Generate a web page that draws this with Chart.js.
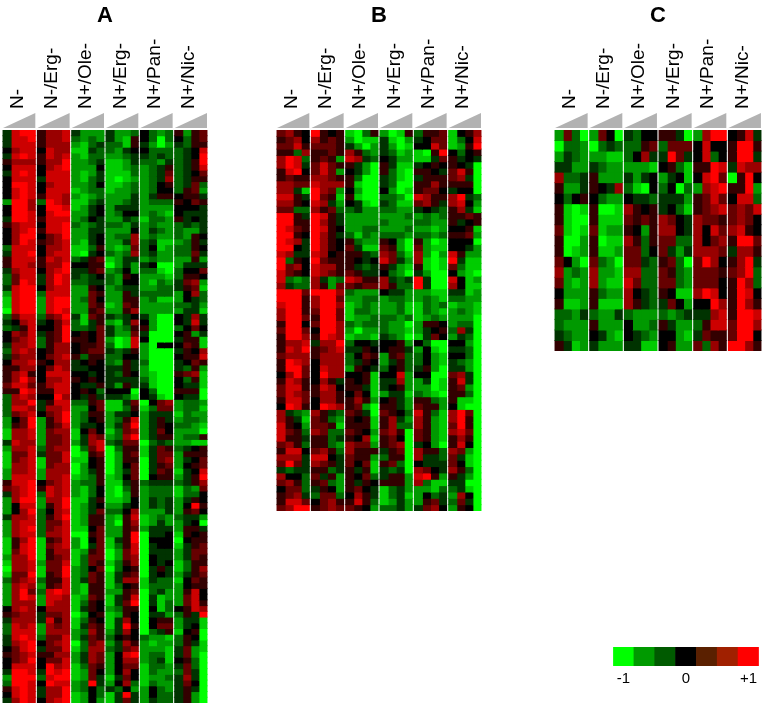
<!DOCTYPE html>
<html><head><meta charset="utf-8">
<script src="https://cdn.jsdelivr.net/npm/chart.js@4"></script>
<style>
html,body{margin:0;padding:0;background:#fff;width:765px;height:705px;overflow:hidden}
canvas{position:absolute;filter:blur(0.45px)}
.w{position:absolute}
</style></head><body>
<div class="w" style="left:2px;top:0;width:206px;height:703px"><canvas id="a"></canvas></div>
<div class="w" style="left:276px;top:0;width:206px;height:511px"><canvas id="b"></canvas></div>
<div class="w" style="left:554px;top:0;width:208px;height:351px"><canvas id="c"></canvas></div>
<div class="w" style="left:613px;top:647px;width:148px;height:42px"><canvas id="k"></canvas></div>
<script>
const groupLabels=['N-','N-/Erg-','N+/Ole-','N+/Erg-','N+/Pan-','N+/Nic-'];
const scaleLabels=['-1','','','0','','','+1'];
const scaleColours=['#00ff00','#009a00','#005a00','#000000','#5a2000','#a02000','#ff0000'];
const scaleValues=[1,1,1,1,1,1,1];
// each row: 6 groups x 4 doses, -5 (full green) .. +5 (full red)
const rowsA=[
[-1,4,5,5,1,3,3,4,-1,-3,-3,-3,-1,-3,-3,-2,0,-2,-3,-2,1,-3,1,2],
[-1,4,4,5,1,3,3,4,-2,-3,-2,-3,-1,-3,-4,1,0,-2,-5,-2,0,-2,1,2],
[-1,4,4,4,1,3,3,3,-3,-4,-2,-1,-2,-2,-4,1,-1,-3,-5,-3,-1,-2,1,1],
[0,3,4,4,0,4,3,3,-4,-4,-1,-2,-2,-3,-1,0,0,-2,-2,-2,-2,-1,0,4],
[-1,4,5,4,1,4,3,4,-3,-4,-2,-2,-3,-3,-2,-1,-1,-2,-1,-2,-2,-1,0,5],
[1,3,3,3,1,3,3,5,-3,-3,-2,-1,-4,-4,-3,-1,-2,-2,-3,-1,-2,-1,1,5],
[0,4,4,4,0,3,4,5,-3,-3,-3,0,-4,-4,-3,-2,-3,-2,-1,1,-2,-1,1,4],
[-1,4,5,4,0,4,4,4,-3,-4,-3,-1,-4,-4,-4,-2,-3,-2,-1,2,-2,-1,0,2],
[0,4,4,4,-1,4,4,4,-3,-4,-2,-1,-4,-5,-4,-3,-3,-2,-1,3,-2,-1,1,1],
[0,5,5,4,0,3,4,4,-3,-3,-2,0,-4,-4,-3,-2,-3,-2,0,1,-2,-1,2,-2],
[0,4,5,4,0,4,4,4,-4,-3,-2,-2,-4,-3,-3,-2,-3,-2,0,0,-2,1,2,-3],
[0,4,5,4,1,4,4,3,-3,-4,-3,-2,-3,-3,-3,-1,-3,-1,1,1,0,1,1,-1],
[-3,5,5,3,-2,5,4,3,-4,-4,-2,-1,-3,-3,-2,-1,-3,-2,-2,-2,1,0,2,1],
[0,5,5,3,0,5,5,4,-4,-3,-1,0,-3,-1,-1,-1,-3,-3,-3,-3,0,0,0,-1],
[0,5,5,4,0,4,5,5,-3,-3,-1,0,-3,-2,0,0,-3,-2,-3,-4,0,-1,-1,-1],
[-1,5,5,4,1,4,4,4,-3,-2,0,-1,-3,-3,-1,-2,-4,-2,-2,-3,1,-1,0,-1],
[1,3,4,4,0,4,4,5,-2,-3,-2,-1,-2,-2,-3,-1,-3,-2,-3,-3,-2,-1,-2,-1],
[0,3,4,5,1,4,4,5,-3,-3,-1,-1,-3,-3,-3,0,-3,-1,-2,-3,-2,-3,-3,-1],
[0,3,5,5,0,2,3,5,-3,-3,-1,0,-3,-2,-2,3,-3,-2,-3,-3,-2,-3,1,0],
[0,3,5,4,1,2,3,4,-3,-4,-1,0,-3,-3,-1,3,-2,-1,-4,-4,-3,-2,1,-1],
[-2,4,4,4,0,3,3,4,-4,-4,-2,1,-3,-4,-3,2,-2,0,-4,-3,-2,-2,1,0],
[-1,4,4,5,0,3,4,4,-4,-5,-1,0,-2,-3,-2,3,-2,-1,-3,-3,-2,-2,2,-1],
[1,4,4,4,1,4,3,4,-2,-1,1,2,-4,-3,-1,-1,-3,-2,-3,-3,-3,-3,1,-3],
[1,4,4,3,1,3,3,5,0,0,1,1,-5,-3,-1,-3,-1,0,-5,-5,-3,-1,-1,-1],
[-1,3,4,4,0,3,4,5,-1,-1,1,2,-3,-2,0,-3,-2,-2,-4,-5,-2,0,0,2],
[-2,2,4,4,-1,3,5,4,-1,-2,-1,0,-2,-3,1,0,-3,-3,-3,-4,-2,1,1,0],
[-2,2,5,4,-1,3,5,4,-2,-2,-1,-1,-2,-3,0,0,-3,-4,-2,-3,-1,2,3,-3],
[-1,4,5,5,0,3,4,4,-3,-3,1,0,-3,-2,-1,-1,-3,-3,-2,-2,-1,1,2,-4],
[-3,4,5,5,-2,4,4,4,-3,-3,2,1,-3,-3,1,-1,-2,-2,-2,-2,-3,0,3,-2],
[-4,4,5,5,-3,4,5,5,-3,-2,2,0,-3,-3,1,1,-3,-2,-4,-4,-3,0,-1,-2],
[-4,4,5,5,-3,4,5,5,-3,-3,2,1,-4,-3,2,1,-3,-3,-3,-3,-2,-2,-1,-3],
[-5,4,5,5,-3,4,5,4,-3,-3,1,2,-3,-3,1,3,-3,-3,-3,-3,-3,-1,-1,-4],
[-2,2,4,4,-2,2,3,5,-1,-4,2,1,-1,-2,-1,0,-1,-3,-5,-5,0,-1,3,-1],
[-1,0,3,4,-1,0,2,4,-2,-4,-1,1,-3,-4,-1,3,0,-3,-5,-5,0,-1,4,-1],
[-2,-1,1,4,0,0,2,5,-2,-2,-1,2,-1,-3,-2,1,1,-3,-5,-5,-2,0,2,0],
[0,3,2,4,-1,1,2,5,0,1,0,2,-1,-3,-3,2,-1,-5,-5,-5,0,1,-3,-1],
[0,2,3,4,-2,1,2,5,1,1,0,2,-3,-5,-4,4,0,-5,-5,-5,-1,1,1,-4],
[-1,3,3,4,-2,1,3,3,0,1,1,2,-2,-5,-4,4,-3,-5,0,0,0,2,1,-4],
[-2,3,4,3,0,1,3,3,0,1,2,2,-1,-2,-1,1,-3,-5,-5,-5,-1,1,0,3],
[-1,2,3,3,0,2,3,4,1,-2,1,1,-2,-2,0,0,-3,-5,-5,-5,0,1,1,4],
[0,3,3,4,1,0,3,3,-1,0,1,0,-2,-3,1,-1,-2,-5,-5,-5,-1,0,2,1],
[1,1,3,3,0,2,4,3,-1,-1,0,0,-1,-1,1,-1,-3,-5,-5,-5,-1,-2,1,-3],
[1,3,4,1,0,4,4,4,0,0,-1,0,-1,-2,1,0,-3,-4,-5,-5,1,2,3,-4],
[1,3,5,3,0,3,3,4,1,0,1,0,-1,-1,-1,-1,-2,-4,-5,-5,0,-2,1,-4],
[2,4,4,2,1,3,4,4,0,-1,-1,1,-1,-3,1,-1,-1,-4,-5,-5,0,-1,-1,-4],
[1,1,5,4,1,1,4,4,0,1,0,-2,0,0,0,-5,0,-2,-5,-5,1,1,1,-5],
[-2,3,4,3,0,0,5,3,0,-1,1,-1,-1,-1,-2,-4,0,-1,-4,-5,0,-1,-1,-5],
[-2,3,3,5,-1,1,4,4,-2,-2,1,2,-4,-4,-1,2,-5,0,2,3,-3,-2,-2,-3],
[-2,4,4,3,-1,3,3,4,-3,-3,0,2,-4,-4,-2,1,-4,-2,2,2,-3,-2,-2,-4],
[-2,2,3,4,0,2,3,5,-3,-2,1,1,-3,-1,-1,0,-3,-1,-1,-1,-4,-2,-3,-3],
[-3,0,2,5,-3,1,3,5,-3,-2,0,1,-3,-2,1,4,-3,-1,1,-1,-3,-2,-2,-3],
[-3,1,2,5,-3,1,2,4,-3,-1,-1,0,-3,-1,2,5,-3,-1,1,0,-2,-2,-3,-4],
[-4,3,3,4,-3,2,3,3,-4,0,2,0,-4,-2,2,3,-3,-1,2,0,-3,-3,-3,-5],
[-4,3,3,4,-3,2,2,3,-4,-1,3,2,-3,-2,3,5,-3,-1,1,1,-3,-2,-2,1],
[-1,4,3,3,-3,2,2,3,-3,-1,3,4,-2,-1,2,2,-5,-2,-1,-2,-3,-3,-4,-4],
[-3,3,3,4,-2,2,3,3,-5,-2,2,4,-5,-2,1,1,-4,-1,2,1,-2,-1,0,1],
[-4,2,2,4,-1,2,2,4,-5,-4,1,2,-5,-3,1,2,-4,-1,2,2,-3,1,1,1],
[-4,2,3,4,-4,2,2,4,-4,-4,0,1,-5,-3,1,1,-5,-1,2,3,-3,-1,0,2],
[-4,3,3,4,-4,2,3,3,-5,-3,0,1,-5,-3,0,2,-5,-1,1,2,-3,0,1,2],
[-3,3,3,4,-3,3,3,3,-5,-3,-1,1,-5,-3,-1,2,-5,-1,2,1,-4,-1,0,4],
[-3,4,4,4,-3,3,3,4,-4,-3,-2,1,-4,-3,0,2,-5,0,1,1,-3,-1,1,5],
[1,4,4,5,0,2,3,4,-3,-2,-2,1,-4,-4,-1,1,-2,-1,-1,-1,-2,-1,1,3],
[2,3,4,5,1,4,3,4,-3,-4,-2,0,-4,-5,-2,1,-3,-2,-2,-2,-4,-2,-3,2],
[-1,3,4,5,-2,4,3,4,-3,-4,-2,0,-4,-5,-3,1,-3,-2,-2,-2,-4,-2,-2,0],
[-3,3,5,5,-3,3,3,5,-4,-4,-1,1,-4,-4,-3,0,-3,-1,-2,-1,-3,-1,1,0],
[-3,0,4,4,-3,1,3,5,-4,-3,-1,0,-3,-3,-1,0,-3,-1,-2,-1,-3,0,5,1],
[-3,0,3,5,-2,0,3,4,-4,-3,-1,2,-2,-2,0,3,-3,-3,-3,-1,-3,1,2,0],
[-1,3,3,4,-2,1,3,5,-4,-3,1,1,-3,-4,1,4,-4,-3,-2,-3,-2,-1,-1,-3],
[-3,3,4,4,-2,2,2,4,-4,-3,1,1,-3,-5,1,3,-4,-3,-1,-3,-3,-1,0,-5],
[-3,3,4,5,-2,2,3,4,-4,-4,0,2,-3,-3,1,2,-3,-1,-1,-1,-3,1,1,-1],
[-3,3,4,4,-2,3,3,4,-5,-5,1,2,-3,-3,1,5,-5,-1,-1,0,-4,1,0,1],
[-4,1,3,5,-4,1,2,4,-3,-5,0,2,-4,-1,1,5,-5,0,0,0,-5,0,1,1],
[-4,1,4,5,-4,2,3,4,-3,-5,-1,2,-4,-2,1,4,-5,-1,0,0,-4,-1,1,2],
[-4,2,4,5,-4,1,3,3,-4,-3,1,2,-5,-3,2,4,-5,-1,-1,-1,-3,-1,2,2],
[-3,3,3,5,-4,1,2,3,-4,-2,2,2,-5,-3,2,3,-5,0,-1,-1,-3,-1,2,1],
[-4,3,3,4,-3,2,2,4,-4,-2,2,1,-4,-2,1,3,-5,0,-1,0,-4,-2,1,1],
[-5,3,3,4,-4,2,2,5,-3,-2,0,2,-5,-2,0,1,-5,-1,1,-1,-4,-2,1,3],
[-4,2,2,5,-4,1,2,5,-3,-2,2,1,-4,-1,1,2,-5,-1,0,-1,-3,-1,1,2],
[-2,2,3,4,-2,1,1,4,-3,-1,2,1,-4,-1,3,3,-4,-1,-2,-2,-4,0,2,1],
[-3,3,4,3,-3,1,2,4,-3,-4,1,1,-4,-2,0,1,-4,-2,-2,-2,-3,0,1,1],
[-3,3,5,2,-2,4,5,4,-3,-4,1,1,-3,-3,1,2,-5,-2,-1,-3,-3,1,4,0],
[-3,3,5,4,-3,4,4,3,-4,-3,2,1,-4,-1,1,4,-5,-1,-4,-3,-3,2,4,0],
[-3,3,3,3,-3,4,3,3,-4,-2,1,0,-4,-1,2,5,-5,-1,-4,-2,-3,2,4,1],
[0,3,4,3,0,3,3,3,-4,-1,1,0,-3,-2,1,1,-5,0,-4,-2,0,1,4,3],
[1,2,3,3,-1,2,2,3,-5,-3,0,1,-4,-3,1,0,-5,-1,-1,-3,-2,1,-1,5],
[-1,3,3,3,-1,4,1,3,-4,-2,1,0,-4,-1,3,0,-5,0,1,1,-3,-1,-1,-4],
[-2,4,3,4,-3,3,2,3,-4,-1,2,1,-4,-1,5,1,-5,0,2,2,-3,-1,0,-4],
[-2,4,4,4,-3,3,3,3,-3,-2,3,1,-3,-1,3,0,-5,-2,-1,1,-4,0,1,-5],
[-1,4,5,4,-2,2,2,4,-3,-1,2,1,-2,0,1,0,-2,-3,-3,-4,-2,1,0,-5],
[-1,3,4,5,0,2,3,4,-5,-2,2,3,-3,-1,3,1,-3,-4,-3,-3,-2,1,-1,-4],
[0,2,4,5,-1,2,2,4,-4,-2,3,3,-2,-1,2,3,-3,-3,-3,-4,-1,2,-3,-4],
[1,2,3,4,1,1,3,3,-3,-1,3,2,-3,0,4,5,-3,-2,-2,-4,-1,2,-3,-5],
[0,2,3,5,0,2,2,4,-3,-1,3,2,-3,0,3,3,-3,-2,-1,-4,0,1,-2,-5],
[0,4,4,4,0,5,3,4,-4,-2,2,1,-3,0,2,2,-4,-2,-2,-3,-1,2,-2,-5],
[-1,5,5,4,-1,5,4,5,-4,-3,2,0,-3,0,3,0,-4,-2,-3,-3,-2,2,-1,-5],
[-3,5,5,5,-2,4,5,5,-4,-3,2,-1,-4,-1,2,0,-4,-3,-3,-2,-1,3,-1,-5],
[-2,5,5,4,0,5,4,4,-3,-2,5,-1,-3,0,3,-2,-4,-2,-3,-3,-1,2,0,-5],
[1,4,5,4,-1,3,3,5,-3,-2,0,-2,-1,-2,0,-3,-3,0,-2,-3,-1,1,-1,-5],
[0,4,5,4,-1,3,3,5,-4,-3,0,-2,-4,-1,5,-1,-3,0,-2,-2,-1,1,-3,-5],
[-1,3,5,4,0,3,4,5,-4,-3,0,-3,-4,-1,2,-1,-3,-1,-2,-2,-1,1,-3,-5]
];
const rowsB=[
[2,3,1,0,5,1,0,1,-4,-5,-2,1,-3,-5,-4,1,-2,1,1,2,-4,0,1,3],
[1,2,3,0,3,1,2,1,-3,-5,-4,-4,-1,-4,-5,-3,-1,0,2,2,-4,-2,0,4],
[2,2,4,1,2,2,2,1,-1,-3,-5,-3,-1,-3,-5,-4,0,0,4,2,-4,-3,1,5],
[1,1,-2,3,1,1,2,1,3,1,-2,-3,-1,-2,-4,-3,-4,-5,1,5,0,-2,0,1],
[3,5,4,-2,1,2,1,-3,4,3,-1,-2,0,-1,-3,-3,-4,-4,-1,2,1,-1,0,-1],
[3,5,4,-1,2,4,2,1,1,-1,-3,-5,1,-1,-4,-4,-1,0,1,0,1,0,-1,-5],
[1,4,5,0,2,4,2,-3,0,-1,-3,-5,1,-2,-4,-5,1,1,0,-1,2,4,1,-5],
[1,2,1,1,3,3,2,1,1,-2,-5,-5,-1,-2,-4,-5,-1,1,1,1,2,3,-1,-5],
[3,3,2,2,4,3,3,3,1,-4,-5,-5,-1,-2,-5,-5,1,1,3,1,1,1,1,-5],
[3,3,-1,-4,5,3,2,-3,0,-3,-5,-5,0,-3,-5,-4,1,2,2,0,-1,0,0,-5],
[4,4,1,-1,5,2,1,-4,1,-4,-5,-5,-2,-2,-3,-5,4,3,1,1,3,5,-1,-2],
[3,3,1,0,4,3,-1,-3,0,-1,-4,-5,-1,-2,-4,-4,2,3,1,-1,3,4,0,-3],
[2,2,-2,-2,3,1,2,-2,-2,-1,-3,-3,-2,-2,-3,-3,-1,0,-1,-2,1,3,-1,-4],
[5,5,1,-1,5,4,1,-1,-3,-3,-3,-3,-3,-3,-3,-2,-3,-2,-3,-2,1,1,2,1],
[5,5,1,1,5,3,1,-1,-3,-3,-3,-3,-2,-3,-3,-3,-2,-2,-3,-3,1,-1,0,1],
[5,4,2,1,5,4,1,0,-3,-3,-2,-2,-3,-3,-3,-2,-3,-3,-4,-3,0,0,1,-4],
[5,5,1,0,5,3,1,-1,-2,-4,-2,-3,-2,-2,-2,-3,-2,-2,-3,-2,1,1,2,-3],
[5,4,3,-1,5,3,1,0,1,-2,-3,-3,1,0,-3,-5,1,-3,-5,-4,0,0,0,-5],
[5,5,0,-1,5,3,1,0,2,-1,-4,-4,2,1,-3,-5,2,-3,-4,-4,0,0,-1,-3],
[4,3,-1,-1,4,3,0,1,1,1,-1,-2,3,2,-2,-4,3,-3,-5,-3,4,1,-3,-3],
[5,-2,1,0,5,2,1,1,1,0,-1,0,4,2,-1,-3,3,-4,-5,-4,5,-1,-4,-4],
[5,2,3,0,4,3,3,1,1,-1,-2,-1,1,-1,-3,-4,1,-4,-5,-4,2,-2,-4,-4],
[4,2,1,0,4,3,2,1,2,1,-1,-1,0,-2,-3,-5,-1,-3,-5,-5,0,-3,-4,-5],
[4,-2,-3,-2,3,-1,-3,-2,4,3,1,1,3,-1,-2,-1,5,-1,-5,-5,4,0,-4,-3],
[3,-1,-2,-2,3,1,-3,2,2,1,2,2,3,1,-2,-2,5,-1,-5,-5,3,0,-4,-4],
[5,5,5,2,5,5,5,3,-2,-3,-3,-3,0,-1,-1,-3,-3,-3,-4,-4,-1,-1,-4,-3],
[5,5,5,1,3,5,5,2,-3,-3,-2,-2,-3,-2,-2,-3,-3,-2,-3,-4,-2,-2,-3,-3],
[4,5,5,1,3,5,5,3,-4,-3,-2,-3,-3,-3,-2,-4,-4,-2,-3,-2,-4,-3,-3,-4],
[3,5,5,1,2,5,5,2,-4,-2,-2,-3,-3,-3,-2,-4,-4,-2,-3,-4,-3,-2,-3,-4],
[3,5,5,2,1,5,5,2,-4,-3,-3,-2,-2,-2,-3,-2,-4,-3,-2,-3,-3,-3,-3,-5],
[1,5,5,0,2,5,5,3,-2,-3,-2,-2,-2,-3,-3,-5,-3,1,1,0,-3,-2,-2,-5],
[2,5,5,2,0,5,5,3,-3,-5,-3,-3,-2,-3,-3,-4,-3,-1,0,1,-2,3,-1,-5],
[1,5,5,3,1,5,4,3,-4,-3,-3,-4,-1,-2,-3,-5,-4,-1,2,0,-3,-1,-2,-5],
[1,3,3,4,-1,3,3,5,-2,0,0,-1,0,0,1,-3,0,-2,-5,-5,0,0,-3,-5],
[1,4,3,5,1,2,3,4,-1,-1,1,0,0,1,1,-1,-3,0,-4,-5,-1,-1,-2,-5],
[2,3,3,3,1,3,3,3,-2,0,2,1,-3,1,2,-2,-2,0,-3,-4,0,0,-2,-5],
[1,5,4,3,0,3,3,3,-2,-1,1,0,-3,-1,1,-2,-2,0,-3,-4,-1,-2,-3,-5],
[1,5,5,2,0,4,3,3,-3,1,0,-1,-2,0,1,-2,-1,1,-3,-5,-1,-1,-3,-5],
[0,3,5,2,0,5,3,3,0,0,1,-4,0,0,4,-3,0,0,-5,-5,2,3,-1,-5],
[1,4,3,1,0,3,1,-1,1,0,1,-4,-1,-1,3,-3,-3,-1,-5,-4,1,4,-1,-5],
[2,4,4,1,1,4,3,0,1,1,-1,-4,-1,0,1,-3,-3,-3,-5,-4,1,2,-3,-5],
[2,4,3,2,1,3,3,1,0,2,0,-4,-3,-1,-1,-4,-2,-3,-4,-5,1,1,-2,-5],
[1,4,4,2,0,3,3,1,1,3,1,-3,0,1,-1,-3,1,1,-2,-3,1,-4,-4,-5],
[0,5,4,1,0,5,4,3,1,2,-3,-5,1,1,-1,-3,2,1,1,-3,0,-4,-5,-5],
[3,-1,-2,-3,3,1,-1,-2,2,1,-1,-5,2,1,0,-2,4,1,-2,-4,3,5,2,-5],
[3,1,-1,-4,2,1,-2,-3,1,0,1,-4,1,3,-1,-3,3,1,-3,-4,3,5,1,-5],
[4,1,0,-3,2,2,1,-4,1,1,1,-4,1,3,-2,-2,3,1,-3,-4,2,5,1,-5],
[4,2,1,-2,3,2,-2,-2,2,1,0,-3,2,3,1,-5,2,1,-3,-4,3,4,2,-5],
[4,1,1,-1,1,1,-2,-1,1,0,3,-4,1,2,0,-5,2,1,-3,-4,1,3,1,-5],
[2,3,1,-2,1,1,-2,-3,3,2,2,-3,1,2,3,-5,-1,0,-3,-5,1,4,0,-5],
[1,4,4,0,2,3,1,-2,3,1,1,1,-1,1,2,-5,3,1,1,-2,3,2,-3,-5],
[3,3,3,-1,4,4,0,-1,2,1,1,-3,-2,1,1,-5,3,-1,-1,-2,2,-1,-4,-5],
[2,5,2,-1,3,2,1,-1,2,0,2,-4,1,2,-2,-5,0,-1,-1,-1,2,0,-4,-5],
[-1,-2,-1,-1,1,1,-2,-1,1,-1,1,-4,-1,-2,-1,-5,3,2,0,-1,3,1,-2,-5],
[3,0,0,-2,2,-1,1,-3,1,0,2,-2,-1,1,1,-3,4,5,1,-3,1,-1,-3,-5],
[2,3,1,-2,1,2,-2,-3,1,-1,1,0,1,1,1,-3,3,-2,-4,-4,-1,-1,-5,-5],
[0,2,2,-2,-1,1,0,-3,1,2,0,-1,-4,-2,-1,-3,-3,-3,-4,-2,-2,-1,-4,-5],
[1,2,3,-1,-2,2,2,-2,0,3,1,-1,-4,-2,-1,-4,-3,0,-2,-1,-3,3,0,-5],
[1,4,4,2,0,2,3,1,1,4,1,-2,-4,-3,-1,-3,-3,1,2,-1,-2,2,-1,-5],
[2,3,5,5,1,2,3,2,2,1,0,-3,-2,-2,-1,-3,-1,2,3,0,-3,1,0,-5]
];
const rowsC=[
[-3,2,-2,-5,-3,2,0,-5,-1,-2,0,0,1,1,-1,-5,-3,3,5,5,0,1,4,-1],
[-5,-2,-2,-3,-5,-2,-1,-2,-2,-2,1,2,-2,2,2,2,0,4,0,0,1,5,5,1],
[-3,-1,-2,-3,-3,-3,-4,-4,-2,0,3,-1,-1,5,2,-1,0,4,-2,0,1,5,5,-1],
[-1,-1,-3,-3,-1,-2,-3,-3,-3,-3,-3,-4,0,1,-2,-4,1,1,5,4,-1,4,3,3],
[3,-2,-2,-1,1,-3,-3,-3,-1,-3,-1,0,-3,-1,0,-4,0,4,5,2,-5,1,5,0],
[1,-3,-3,-1,1,0,-1,3,-2,-4,-5,0,-2,0,-5,-2,-3,3,4,5,1,1,5,-3],
[0,-2,0,1,0,-2,-3,-3,0,-1,-1,-2,-1,-1,-1,-3,1,2,4,2,0,4,4,-2],
[1,-4,-5,-4,1,-5,-5,-4,3,1,0,1,-1,0,-2,-4,1,2,3,4,2,3,2,4],
[1,-4,-5,-5,1,-4,-4,-4,2,1,2,1,3,2,0,-1,3,2,2,1,2,3,2,0],
[2,-4,-5,-4,2,-4,-3,-3,1,0,-3,1,3,3,0,-1,3,0,4,2,3,4,1,0],
[1,-5,-5,-3,1,-5,-4,-4,3,1,-2,1,2,2,-2,-2,3,0,2,3,1,5,5,2],
[1,-5,-4,-3,1,-4,-4,-3,2,2,-2,0,2,-1,-3,-1,3,3,3,2,-1,3,3,1],
[2,0,-3,-5,2,-2,-3,-5,2,2,-1,-2,1,2,-2,-5,2,5,3,0,1,3,5,-1],
[3,-3,-2,-3,3,-3,-3,-4,3,3,-2,-2,2,1,-2,-3,2,2,2,1,2,3,5,-2],
[2,-3,-4,-3,3,-3,-4,-4,4,2,-2,-2,2,2,-2,-3,2,2,2,0,1,5,3,-2],
[0,-3,-3,-3,1,-2,-3,-3,3,0,-1,-2,1,0,-4,-4,3,5,4,0,1,5,4,0],
[1,-4,-4,-3,1,-4,-4,-4,3,1,-1,-2,-1,2,0,-3,0,0,5,3,1,5,3,1],
[-2,-2,-3,-1,-2,-3,-3,-1,-2,-3,-3,-3,-2,-3,-2,-1,-1,-1,3,4,1,5,5,4],
[-2,-3,-3,-3,1,-3,-3,-3,0,-3,-3,-2,1,-1,-3,-3,-2,1,4,4,2,5,5,3],
[-1,-2,-3,-3,0,-1,-3,-4,0,-1,-2,-3,0,0,-3,-4,-1,2,1,1,2,5,5,0],
[1,-1,-4,-3,-1,-3,-3,-3,-1,-1,-4,-4,0,1,-3,-3,2,-2,3,1,5,5,3,1]
];
const colour=v=>v>=0?`rgb(${Math.round(v*51)},0,0)`:`rgb(0,${Math.round(-v*51)},0)`;
const font={family:'"Liberation Sans",Arial,sans-serif'};
const wedges={id:'wedges',afterDraw(ch){
  const x=ch.scales.x,top=ch.chartArea.top,c=ch.ctx,h=x.width/x.ticks.length*0.47;
  c.save();c.fillStyle='#b2b2b2';
  x.ticks.forEach((t,i)=>{const p=x.getPixelForTick(i);
    c.beginPath();c.moveTo(p-h,top-2);c.lineTo(p+h,top-2);c.lineTo(p+h,top-17);c.closePath();c.fill();});
  c.restore();}};
function panel(id,title,rows){
  const datasets=[];
  rows.forEach(row=>{for(let d=0;d<4;d++){datasets.push({
    stack:'d'+d,data:groupLabels.map(()=>1),
    backgroundColor:groupLabels.map((_,g)=>colour(row[g*4+d])),borderWidth:0,inflateAmount:0.5,
    categoryPercentage:0.94,barPercentage:1});}});
  new Chart(document.getElementById(id),{type:'bar',data:{labels:groupLabels,datasets},
    plugins:[wedges],
    options:{animation:false,responsive:true,maintainAspectRatio:false,
      layout:{padding:{top:5,left:0,right:0,bottom:0}},
      plugins:{legend:{display:false},tooltip:{enabled:false},
        title:{display:true,text:title,color:'#000',padding:0,font:{...font,size:22,weight:'bold',lineHeight:1}}},
      scales:{
        x:{position:'top',stacked:true,grid:{display:false,drawTicks:false,tickLength:0},border:{display:false},
          afterFit(s){s.height=103;s.paddingLeft=0;s.paddingRight=0;},
          ticks:{color:'#000',minRotation:90,maxRotation:90,autoSkip:false,padding:21,labelOffset:21,font:{...font,size:19}}},
        y:{stacked:true,reverse:true,min:0,max:rows.length,display:false}}}});
}
panel('a','A',rowsA);
panel('b','B',rowsB);
panel('c','C',rowsC);
new Chart(document.getElementById('k'),{type:'bar',
  data:{labels:scaleLabels.map((l,i)=>l||' '.repeat(i+1)),datasets:[{data:scaleValues,backgroundColor:scaleColours,borderWidth:0,categoryPercentage:1,barPercentage:1}]},
  options:{animation:false,responsive:true,maintainAspectRatio:false,
    plugins:{legend:{display:false},tooltip:{enabled:false}},
    scales:{x:{grid:{display:false,drawTicks:false,tickLength:0},border:{display:false},
        afterFit(s){s.height=23;},
        ticks:{color:'#000',autoSkip:false,maxRotation:0,padding:4,font:{...font,size:15}}},
      y:{min:0,max:1,display:false}}}});
</script></body></html>
